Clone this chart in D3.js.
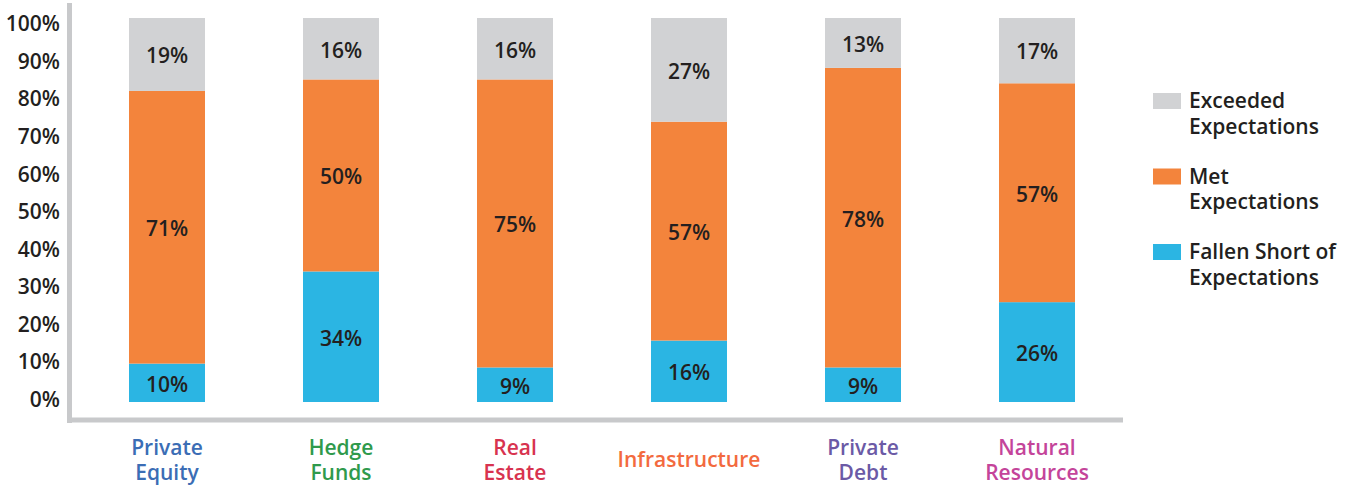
<!DOCTYPE html>
<html>
<head>
<meta charset="utf-8">
<script src="https://cdn.jsdelivr.net/npm/d3@7"></script>
<style>
  html, body { margin: 0; padding: 0; background: #ffffff; }
  svg { display: block; }
  text { font-family: "Open Sans", "Noto Sans", sans-serif; font-weight: 600; }
</style>
</head>
<body>
<svg id="chart" width="1354" height="488"></svg>
<script>
// Asset classes and how each one performed against expectations (percent of respondents)
const categories = [
  ["Private", "Equity"],
  ["Hedge", "Funds"],
  ["Real", "Estate"],
  ["Infrastructure"],
  ["Private", "Debt"],
  ["Natural", "Resources"]
];
const categoryColors = ["#3b6db5", "#2f9a4c", "#d8334f", "#f36a3e", "#6b5aa6", "#c4449a"];

const fallenShort = [10, 34, 9, 16, 9, 26];
const met         = [71, 50, 75, 57, 78, 57];
const exceeded    = [19, 16, 16, 27, 13, 17];

const seriesNames  = ["Fallen Short of Expectations", "Met Expectations", "Exceeded Expectations"];
const seriesColors = ["#2bb5e3", "#f3843c", "#d1d2d4"];
const legendLines  = [["Exceeded", "Expectations"], ["Met", "Expectations"], ["Fallen Short of", "Expectations"]];
const legendColors = ["#d1d2d4", "#f3843c", "#2bb5e3"];

const yTicks = [0, 10, 20, 30, 40, 50, 60, 70, 80, 90, 100];

const svg = d3.select("#chart");
const textColor = "#231f20";
const axisColor = "#c8c9cb";

// Rows for the stack layout
const keys = ["fallen", "met", "exceeded"];
const rows = categories.map((c, i) => ({
  idx: i,
  fallen: fallenShort[i],
  met: met[i],
  exceeded: exceeded[i]
}));
const stacked = d3.stack().keys(keys)(rows);

const x = d3.scaleBand()
  .domain(d3.range(categories.length))
  .range([80, 1124])
  .paddingInner(0.5632)
  .paddingOuter(0.2816);

const y = d3.scaleLinear().domain([0, 100]).range([402, 18]);
// Tick labels sit on their own slightly tighter scale
const yLabel = d3.scaleLinear().domain([0, 100]).range([399, 23.3]);

// Axis lines
svg.append("line")
  .attr("x1", 69.5).attr("x2", 69.5)
  .attr("y1", 3).attr("y2", 423)
  .attr("stroke", axisColor).attr("stroke-width", 5);
svg.append("line")
  .attr("x1", 67).attr("x2", 1123)
  .attr("y1", 420).attr("y2", 420)
  .attr("stroke", axisColor).attr("stroke-width", 5);

// Y tick labels
svg.append("g").selectAll("text")
  .data(yTicks)
  .join("text")
  .attr("x", 60)
  .attr("y", d => yLabel(d))
  .attr("dy", "0.38em")
  .attr("text-anchor", "end")
  .attr("font-size", 21)
  .attr("fill", textColor)
  .text(d => d + "%");

// Stacked bars
const layers = svg.append("g").selectAll("g")
  .data(stacked)
  .join("g")
  .attr("fill", (d, i) => seriesColors[i]);

layers.selectAll("rect")
  .data(d => d)
  .join("rect")
  .attr("x", d => x(d.data.idx))
  .attr("width", x.bandwidth())
  .attr("y", d => y(d[1]))
  .attr("height", d => y(d[0]) - y(d[1]));

// Segment value labels
const labelLayer = svg.append("g");
stacked.forEach(layer => {
  labelLayer.selectAll(null)
    .data(layer)
    .join("text")
    .attr("x", d => x(d.data.idx) + x.bandwidth() / 2)
    .attr("y", d => (y(d[0]) + y(d[1])) / 2)
    .attr("dy", "0.42em")
    .attr("text-anchor", "middle")
    .attr("font-size", 21)
    .attr("fill", textColor)
    .text(d => (d[1] - d[0]) + "%");
});

// Category labels
const cat = svg.append("g").selectAll("text")
  .data(categories)
  .join("text")
  .attr("text-anchor", "middle")
  .attr("font-size", 21)
  .attr("fill", (d, i) => categoryColors[i])
  .attr("x", (d, i) => x(i) + x.bandwidth() / 2)
  .attr("y", d => d.length === 1 ? 467 : 455);
cat.selectAll("tspan")
  .data(d => d)
  .join("tspan")
  .attr("x", function () { return d3.select(this.parentNode).attr("x"); })
  .attr("dy", (d, i) => i === 0 ? 0 : 25)
  .text(d => d);

// Legend
const legend = svg.append("g").attr("transform", "translate(1153, 93)");
const item = legend.selectAll("g")
  .data(legendLines)
  .join("g")
  .attr("transform", (d, i) => `translate(0, ${i * 75.5})`);
item.append("rect")
  .attr("width", 28).attr("height", 16)
  .attr("fill", (d, i) => legendColors[i]);
item.append("text")
  .attr("x", 36)
  .attr("y", 15)
  .attr("font-size", 21)
  .attr("fill", textColor)
  .selectAll("tspan")
  .data(d => d)
  .join("tspan")
  .attr("x", 36)
  .attr("dy", (d, i) => i === 0 ? 0 : 25.5)
  .text(d => d);
</script>
</body>
</html>
